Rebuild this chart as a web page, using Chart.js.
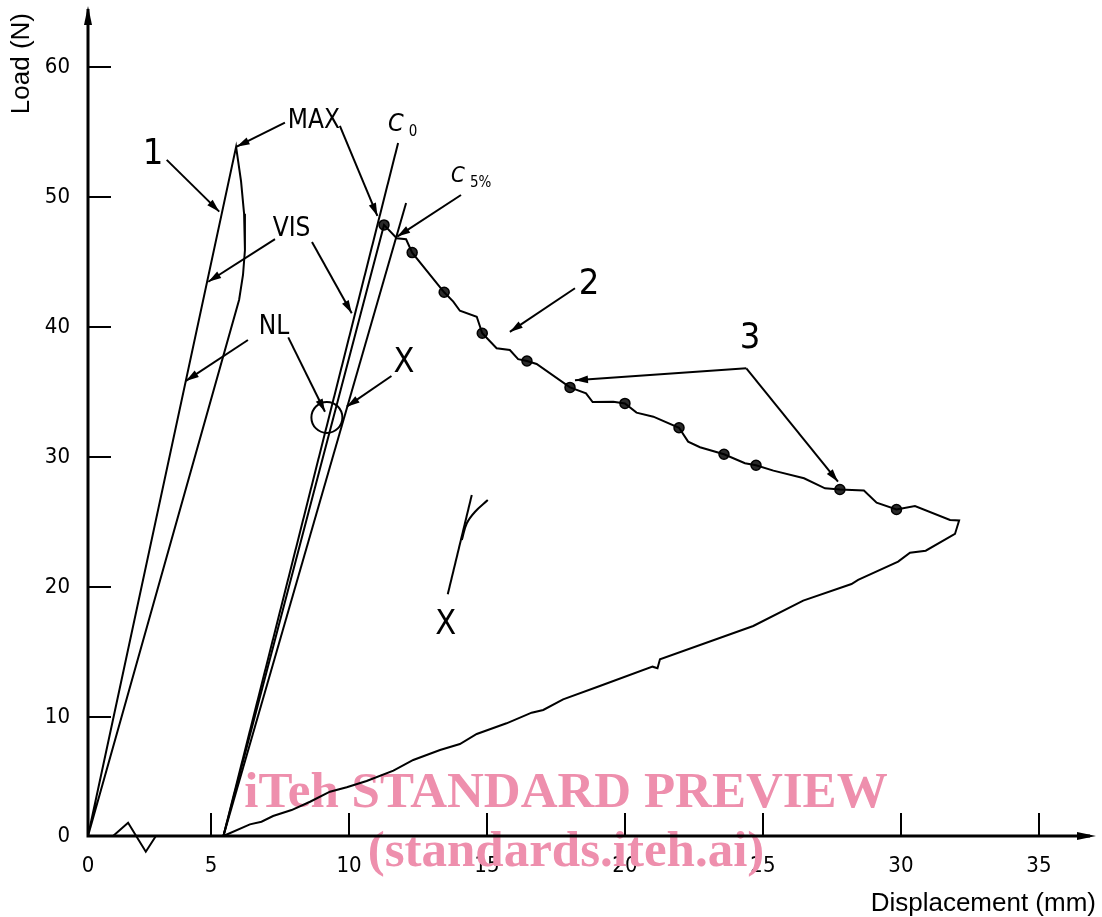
<!DOCTYPE html>
<html>
<head>
<meta charset="utf-8">
<script src="https://cdn.jsdelivr.net/npm/chart.js@4/dist/chart.umd.min.js"></script>
<style>
  html, body { margin: 0; padding: 0; background: #fff; }
  #c { display: block; }
</style>
</head>
<body>
<canvas id="c" width="1102" height="917"></canvas>
<script>
// ---- tick values ----
const xTicks = [0, 5, 10, 15, 20, 25, 30, 35];
const yTicks = [0, 10, 20, 30, 40, 50, 60];

// ---- specimen 1: load / unload loop (displacement mm, load N) ----
const curve1X = [0, 5.91, 6.09, 6.20, 6.23, 6.16, 6.02, 0];
const curve1Y = [0, 53.85, 51.2, 48.7, 45.9, 44.0, 42.1, 0];

// ---- specimen 2: loading, stepwise tear, unloading ----
const curve2X = [5.45, 11.27, 11.73, 12.07, 12.29, 13.45, 13.78, 14.02, 14.63, 14.83, 15.35, 15.83, 16.13, 16.45, 16.80,
  18.01, 18.59, 18.83, 19.58, 20.00, 20.42, 21.03, 21.96, 22.29, 22.72, 23.59, 24.35, 24.75, 25.38, 26.49, 27.25,
  27.79, 28.66, 29.12, 29.84, 30.51, 31.78, 32.11, 31.96, 30.90, 30.33, 29.90, 28.45, 28.21, 26.46, 24.65, 21.27,
  21.18, 21.00, 19.09, 17.76, 17.04, 16.62, 15.71, 14.63, 14.02, 13.30, 12.33, 11.61, 10.64, 9.92, 9.31, 8.59,
  7.92, 7.25, 6.83, 6.41, 5.45];
const curve2Y = [0, 47.85, 46.82, 46.75, 45.72, 42.67, 41.95, 41.25, 40.79, 39.52, 38.36, 38.23, 37.52, 37.38, 37.15,
  35.35, 34.90, 34.23, 34.25, 34.12, 33.41, 33.10, 32.25, 31.18, 30.75, 30.21, 29.52, 29.36, 28.95, 28.36, 27.59,
  27.50, 27.42, 26.48, 25.96, 26.23, 25.15, 25.12, 24.08, 22.79, 22.64, 21.95, 20.54, 20.23, 18.95, 17.00, 14.44,
  13.75, 13.87, 12.38, 11.36, 10.54, 10.33, 9.47, 8.57, 7.73, 7.23, 6.39, 5.49, 4.62, 4.09, 3.72, 2.88,
  2.18, 1.68, 1.20, 0.98, 0];

// ---- recorded peaks on the tear curve ----
const peakX = [11.27, 12.29, 13.45, 14.83, 16.45, 18.01, 20.00, 21.96, 23.59, 24.75, 27.79, 29.84];
const peakY = [47.85, 45.72, 42.67, 39.52, 37.38, 35.35, 34.12, 32.25, 30.21, 29.36, 27.50, 25.96];

// ---- compliance lines C0 and C5% ----
const c0X = [5.45, 11.78];
const c0Y = [0, 54.15];
const c5X = [5.45, 12.07];
const c5Y = [0, 49.54];

// ---- detail X (enlarged onset of non-linearity) ----
const detailLineX = [14.45, 13.58];
const detailLineY = [27.08, 19.44];
const detailCurveX = [14.09, 14.27, 14.57, 15.03];
const detailCurveY = [23.62, 24.90, 25.79, 26.69];

// ---- NL region marker ----
const nlX = [9.20];
const nlY = [33.04];

// ---- axis break symbol ----
const breakX = [1.02, 1.63, 2.35, 2.76];
const breakY = [0, 1.12, -1.32, 0];

// ---- callouts (data units) ----
const leaders = [
  [[3.20, 52.85], [5.30, 48.87]],
  [[7.68, 55.72], [5.93, 53.87]],
  [[9.67, 55.46], [11.03, 48.54]],
  [[7.32, 46.75], [4.89, 43.48]],
  [[8.66, 46.54], [10.10, 41.05]],
  [[6.34, 39.00], [3.98, 35.85]],
  [[7.80, 39.20], [9.13, 33.48]],
  [[11.54, 36.23], [9.92, 33.87]],
  [[14.06, 50.15], [11.75, 46.95]],
  [[18.19, 42.98], [15.83, 39.62]],
  [[24.40, 36.82], [18.19, 35.90]],
  [[24.40, 36.82], [27.72, 28.10]]
];
const callouts = [
  { text: '1',   x: 2.64,  y: 53.23, size: 36 },
  { text: 'MAX', x: 8.73,  y: 55.85, size: 26 },
  { text: 'VIS', x: 7.92,  y: 47.54, size: 26 },
  { text: 'NL',  x: 7.28,  y: 40.00, size: 26 },
  { text: 'X',   x: 11.99, y: 37.19, size: 34 },
  { text: '2',   x: 18.70, y: 43.23, size: 36 },
  { text: '3',   x: 24.53, y: 39.10, size: 36 },
  { text: 'X',   x: 13.51, y: 17.08, size: 34 }
];
const subscripted = [
  { main: 'C', sub: '0',  x: 11.70, y: 55.60, size: 25, subSize: 15 },
  { main: 'C', sub: '5%', x: 13.95, y: 51.60, size: 22, subSize: 15 }
];

const LABEL_FONT = "'DejaVu Sans Condensed', 'DejaVu Sans', sans-serif";
const INK = '#000';

// Linear scale whose first interval can be drawn narrower than the others.
class PiecewiseScale extends Chart.LinearScale {
  static id = 'piecewise';
  static defaults = {};
  _w(v) {
    let w = v;
    const segs = this.options.warp || [];
    for (let i = 0; i < segs.length; i++) {
      const s = segs[i];
      w -= (1 - s.factor) * (Math.min(v, s.to) - s.from);
    }
    return w;
  }
  getPixelForValue(value) {
    if (value === null || value === undefined || isNaN(value)) return NaN;
    const a = this._w(this.min), b = this._w(this.max);
    return this.getPixelForDecimal((this._w(value) - a) / (b - a));
  }
  getValueForPixel(pixel) {
    const a = this._w(this.min), b = this._w(this.max);
    const target = a + this.getDecimalForPixel(pixel) * (b - a);
    const span = this.max - this.min;
    let lo = this.min - span, hi = this.max + span;
    for (let i = 0; i < 60; i++) {
      const m = (lo + hi) / 2;
      if (this._w(m) < target) lo = m; else hi = m;
    }
    return (lo + hi) / 2;
  }
}
Chart.register(PiecewiseScale);

const pts = (xs, ys) => xs.map((x, i) => ({ x, y: ys[i] }));

const lineSet = (xs, ys, extra) => Object.assign({
  data: pts(xs, ys),
  borderColor: INK,
  borderWidth: 2,
  pointRadius: 0,
  fill: false,
  tension: 0,
  clip: false
}, extra || {});

// the end labels sit well inside the axis, so no extra room is reserved for them
function noEdgePadding(s) {
  s.paddingTop = 0;
  s.paddingBottom = 0;
  s.paddingLeft = 0;
  s.paddingRight = 0;
}

function drawArrowHead(ctx, x0, y0, x1, y1, len, half) {
  const a = Math.atan2(y1 - y0, x1 - x0);
  const bx = x1 - Math.cos(a) * len, by = y1 - Math.sin(a) * len;
  const nx = -Math.sin(a) * half, ny = Math.cos(a) * half;
  ctx.beginPath();
  ctx.moveTo(x1, y1);
  ctx.lineTo(bx + nx, by + ny);
  ctx.lineTo(bx - nx, by - ny);
  ctx.closePath();
  ctx.fill();
}

const figurePlugin = {
  id: 'figure',
  beforeDatasetsDraw(chart) {
    const ctx = chart.ctx;
    ctx.save();
    ctx.fillStyle = '#ee8fad';
    ctx.textAlign = 'center';
    ctx.textBaseline = 'alphabetic';
    ctx.font = "bold 51px 'Liberation Serif', 'Times New Roman', serif";
    ctx.fillText('iTeh STANDARD PREVIEW', 566, 807);
    ctx.fillText('(standards.iteh.ai)', 566, 866);
    ctx.restore();
  },
  afterDatasetsDraw(chart) {
    const ctx = chart.ctx;
    const ca = chart.chartArea;
    const xs = chart.scales.x, ys = chart.scales.y;
    ctx.save();
    ctx.strokeStyle = INK;
    ctx.fillStyle = INK;
    ctx.lineCap = 'butt';

    // axes with arrows
    ctx.lineWidth = 3;
    ctx.beginPath();
    ctx.moveTo(ca.left, ca.bottom + 1.5);
    ctx.lineTo(ca.left, ca.top - 4);
    ctx.moveTo(ca.left - 1.5, ca.bottom);
    ctx.lineTo(ca.right - 6, ca.bottom);
    ctx.stroke();
    drawArrowHead(ctx, ca.left, ca.bottom, ca.left, ca.top - 7, 19, 4);
    drawArrowHead(ctx, ca.left, ca.bottom, ca.right, ca.bottom, 19, 4);

    // inward tick marks
    ctx.lineWidth = 2;
    ctx.beginPath();
    xTicks.forEach(v => {
      if (v === 0) return;
      const px = Math.round(xs.getPixelForValue(v));
      ctx.moveTo(px, ca.bottom);
      ctx.lineTo(px, ca.bottom - 23);
    });
    yTicks.forEach(v => {
      if (v === 0) return;
      const py = Math.round(ys.getPixelForValue(v));
      ctx.moveTo(ca.left, py);
      ctx.lineTo(ca.left + 23, py);
    });
    ctx.stroke();

    // leader lines
    ctx.lineWidth = 2;
    leaders.forEach(seg => {
      const x0 = xs.getPixelForValue(seg[0][0]), y0 = ys.getPixelForValue(seg[0][1]);
      const x1 = xs.getPixelForValue(seg[1][0]), y1 = ys.getPixelForValue(seg[1][1]);
      ctx.beginPath();
      ctx.moveTo(x0, y0);
      ctx.lineTo(x1, y1);
      ctx.stroke();
      drawArrowHead(ctx, x0, y0, x1, y1, 13, 3.8);
    });

    // callout texts
    ctx.textAlign = 'center';
    ctx.textBaseline = 'middle';
    callouts.forEach(c => {
      ctx.font = c.size + 'px ' + LABEL_FONT;
      ctx.fillText(c.text, xs.getPixelForValue(c.x), ys.getPixelForValue(c.y));
    });
    subscripted.forEach(c => {
      const px = xs.getPixelForValue(c.x), py = ys.getPixelForValue(c.y);
      ctx.textAlign = 'center';
      ctx.textBaseline = 'middle';
      ctx.font = 'italic ' + c.size + 'px ' + LABEL_FONT;
      ctx.fillText(c.main, px, py);
      const w = ctx.measureText(c.main).width;
      ctx.textAlign = 'left';
      ctx.font = c.subSize + 'px ' + LABEL_FONT;
      ctx.fillText(c.sub, px + w / 2 + 5, py + c.size * 0.3);
    });
    ctx.restore();
  }
};

new Chart(document.getElementById('c'), {
  type: 'scatter',
  data: {
    datasets: [
      lineSet(curve1X, curve1Y, { showLine: true }),
      lineSet(c0X, c0Y, { showLine: true }),
      lineSet(c5X, c5Y, { showLine: true }),
      lineSet(curve2X, curve2Y, { showLine: true }),
      lineSet(detailLineX, detailLineY, { showLine: true }),
      lineSet(detailCurveX, detailCurveY, { showLine: true, tension: 0.4 }),
      lineSet(breakX, breakY, { showLine: true }),
      {
        data: pts(peakX, peakY),
        showLine: false,
        pointRadius: 5,
        pointBackgroundColor: '#2a2a2a',
        pointBorderColor: INK,
        pointBorderWidth: 1.5,
        clip: false
      },
      {
        data: pts(nlX, nlY),
        showLine: false,
        pointRadius: 15.5,
        pointBackgroundColor: 'rgba(0,0,0,0)',
        pointBorderColor: INK,
        pointBorderWidth: 2,
        clip: false
      }
    ]
  },
  options: {
    responsive: false,
    devicePixelRatio: 1,
    animation: false,
    events: [],
    layout: { autoPadding: false, padding: { top: 13, right: 6, bottom: 0, left: 0 } },
    plugins: {
      legend: { display: false },
      tooltip: { enabled: false },
      title: { display: false }
    },
    scales: {
      x: {
        type: 'piecewise',
        min: 0,
        max: 37.07,
        warp: [{ from: 0, to: 5, factor: 123 / 138 }],
        afterBuildTicks: s => { s.ticks = xTicks.map(v => ({ value: v })); },
        afterFit: s => { s.height = 81; noEdgePadding(s); },
        grid: { display: false, drawTicks: false },
        border: { display: false },
        ticks: {
          autoSkip: false, maxRotation: 0, minRotation: 0,
          padding: 17, color: INK,
          font: { family: LABEL_FONT, size: 22 }
        },
        title: {
          display: true, text: 'Displacement (mm)', align: 'end', color: INK,
          font: { family: "'Liberation Sans', Arial, sans-serif", size: 26, lineHeight: 1 },
          padding: { top: 0, bottom: 0 }
        }
      },
      y: {
        type: 'piecewise',
        min: 0,
        max: 64.15,
        warp: [{ from: 0, to: 10, factor: 119 / 130 }],
        afterBuildTicks: s => { s.ticks = yTicks.map(v => ({ value: v })); },
        afterFit: s => { s.width = 88; noEdgePadding(s); },
        grid: { display: false, drawTicks: false },
        border: { display: false },
        ticks: {
          autoSkip: false, padding: 18, color: INK,
          font: { family: LABEL_FONT, size: 22 }
        },
        title: {
          display: true, text: 'Load (N)', align: 'end', color: INK,
          font: { family: "'Liberation Sans', Arial, sans-serif", size: 26, lineHeight: 1 },
          padding: { top: 9, bottom: 0 }
        }
      }
    }
  },
  plugins: [figurePlugin]
});
</script>
</body>
</html>
